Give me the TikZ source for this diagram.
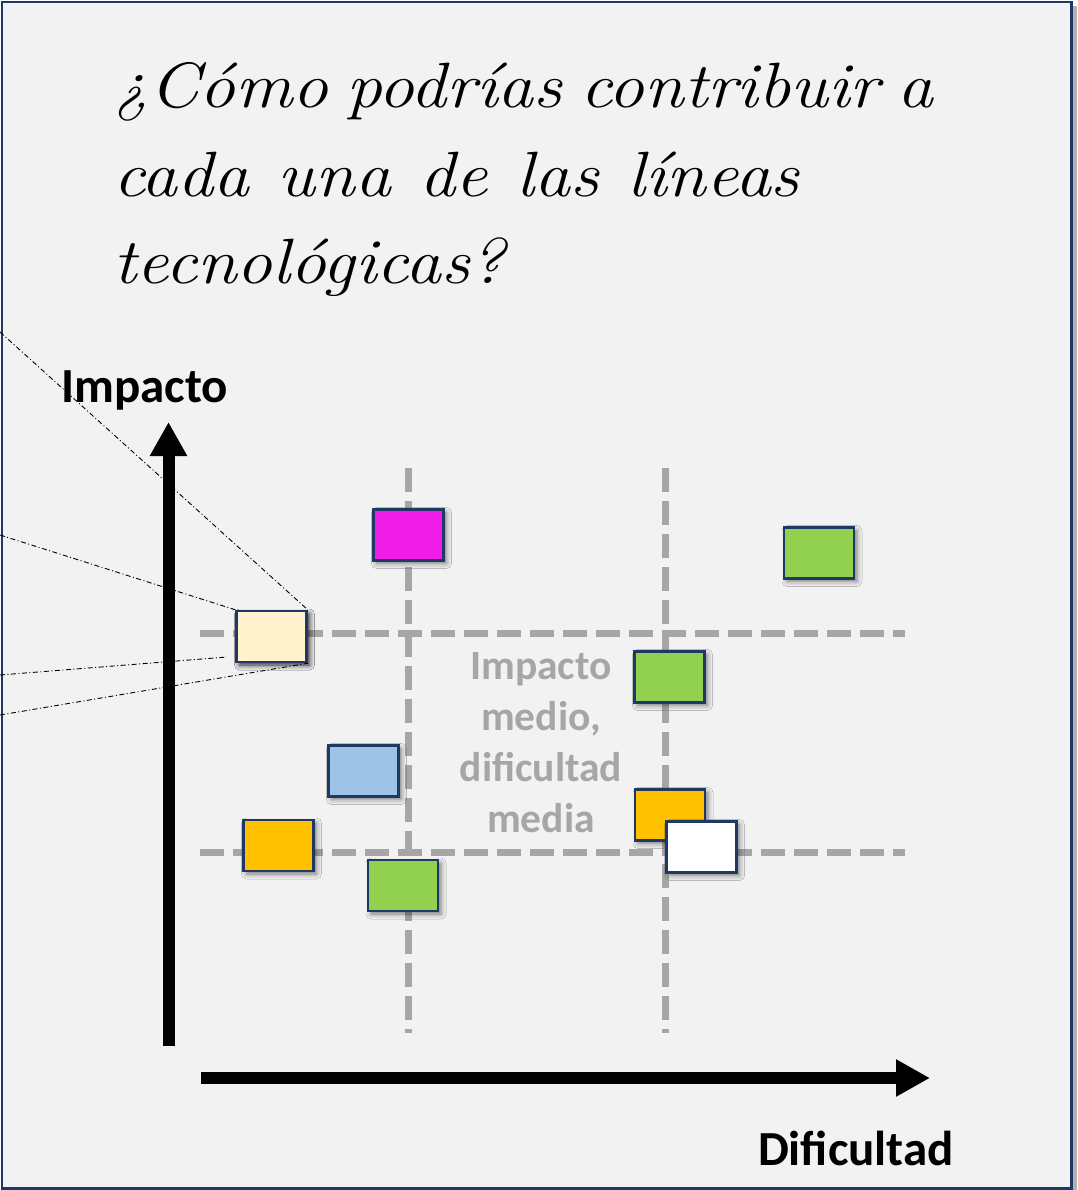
\documentclass[tikz,border=0pt]{standalone}
\usepackage{fontspec}
\newfontfamily\calib{Carlito}
\usetikzlibrary{arrows.meta,shadows.blur}
\definecolor{navy}{HTML}{1F3864}
\definecolor{bgc}{HTML}{F2F2F2}
\definecolor{gridgray}{HTML}{A6A6A6}
\definecolor{cmag}{HTML}{F01CE8}
\definecolor{cgreen}{HTML}{92D050}
\definecolor{ccream}{HTML}{FFF2CC}
\definecolor{cblue}{HTML}{9DC3E6}
\definecolor{corange}{HTML}{FFC000}
\newcommand\ttlline[2][0.25em]{\scalebox{1.12}[1]{\spaceskip=#1 plus 0.05em\relax #2}}
\begin{document}
\begin{tikzpicture}[x=1pt,y=-1pt,
  box/.style={draw=navy, line width=2.5pt, minimum width=70pt, minimum height=51pt, inner sep=0pt,
    blur shadow={shadow xshift=3pt, shadow yshift=-3pt, shadow blur radius=5pt, shadow opacity=50}},
  gridline/.style={draw=gridgray, line width=7pt, dash pattern=on 24pt off 9pt},
  leader/.style={black, line width=0.9pt, dash pattern=on 5pt off 2.5pt on 1pt off 2.5pt},
  axis/.style={line width=12pt, -{Triangle[width=35pt,length=34pt]}},
  titleline/.style={anchor=base west, inner sep=0pt, font=\fontsize{64}{72}\selectfont\itshape},
  axlabel/.style={anchor=base, inner sep=0pt, font=\calib\bfseries\fontsize{49}{58}\selectfont},
  midlabel/.style={anchor=north, inner sep=0pt, align=center, text=gridgray,
    font=\calib\bfseries\fontsize{41.5}{51}\selectfont}]
\useasboundingbox (0,0) rectangle (1077,1190);
\fill[white] (0,0) rectangle (1077,1190);
\fill[black!30] (6,6) rectangle (1077,1190);
\draw[navy, line width=2.5pt, fill=bgc] (2,2) rectangle (1071.5,1188.5);

% title
\node[titleline] (t1) at (113,108) {\ttlline{¿Cómo podrías contribuir a}};
\node[titleline] (t2) at (113,197) {\ttlline[0.4em]{cada una de las líneas}};
\node[titleline] (t3) at (113,283) {\ttlline{tecnológicas?}};

% grid lines
\coordinate (v1a) at (408,468); \coordinate (v1b) at (408,1033);
\coordinate (v2a) at (665,468); \coordinate (v2b) at (665,1033);
\coordinate (h1a) at (200,633); \coordinate (h1b) at (905,633);
\coordinate (h2a) at (200,852); \coordinate (h2b) at (905,852);
\draw[gridline] (v1a) -- (v1b);
\draw[gridline] (v2a) -- (v2b);
\draw[gridline] (h1a) -- (h1b);
\draw[gridline] (h2a) -- (h2b);

% axes
\coordinate (yfrom) at (168.5,1046); \coordinate (yto) at (168.5,422);
\coordinate (xfrom) at (201,1078); \coordinate (xto) at (930,1078);
\draw[axis] (yfrom) -- (yto);
\draw[axis] (xfrom) -- (xto);
\node[axlabel] (limp) at (144.5,402) {Impacto};
\node[axlabel] (ldif) at (856,1165) {Dificultad};

% middle label
\node[midlabel] (mid) at (541,652) {Impacto\\medio,\\dificultad\\media};

% leader lines
\node[box, fill=ccream] (cream) at (271.5,636.5) {};
\coordinate (l1) at (0,332);
\coordinate (l2) at (0,535);
\coordinate (l3) at (0,675);
\coordinate (l3e) at (227,657);
\coordinate (l4) at (0,715);
\draw[leader] (l1) -- (cream.north east);
\draw[leader] (l2) -- (cream.north west);
\draw[leader] (l3) -- (l3e);
\draw[leader] (l4) -- (cream.south east);
\node[box, fill=ccream] (cream2) at (271.5,636.5) {};

% boxes
\node[box, fill=cmag] (mag) at (408.5,535) {};
\node[box, fill=cgreen] (gtr) at (819,553) {};
\node[box, fill=cgreen] (gmid) at (669.5,677) {};
\node[box, fill=cblue] (blue) at (363.5,771) {};
\node[box, fill=corange] (orl) at (278.5,845.5) {};
\node[box, fill=cgreen] (gbot) at (403,885.5) {};
\node[box, fill=corange] (orr) at (670,815) {};
\node[box, fill=white] (wht) at (701.5,847) {};
\end{tikzpicture}
\end{document}
